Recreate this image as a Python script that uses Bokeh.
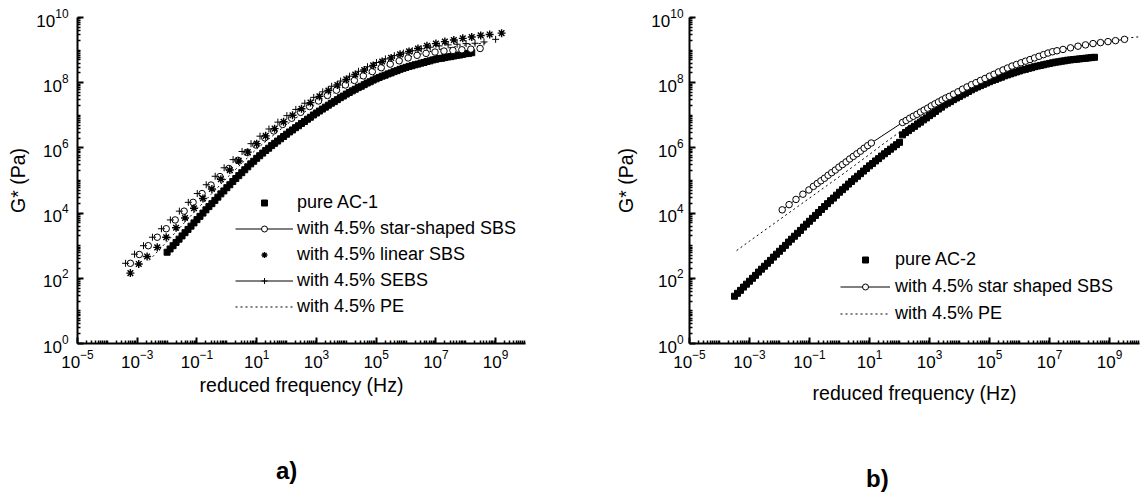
from bokeh.plotting import figure
from bokeh.models import Range1d, FixedTicker, Legend, LegendItem, ColumnDataSource, Div
from bokeh.layouts import row, column
from bokeh.embed import file_html
from bokeh.resources import INLINE

FONT = "Liberation Sans"

# ---------------- data (log10 of reduced frequency in Hz, log10 of G* in Pa) ----------------
# Panel a)
a_pure_logf = [-2.0, -1.9, -1.8, -1.7, -1.6, -1.5, -1.4, -1.3, -1.2, -1.1,
               -1.0, -0.9, -0.8, -0.7, -0.6, -0.5, -0.4, -0.3, -0.2, -0.1,
               0.0, 0.1, 0.2, 0.3, 0.4, 0.5, 0.6, 0.7, 0.8, 0.9,
               1.0, 1.1, 1.2, 1.3, 1.4, 1.5, 1.6, 1.7, 1.8, 1.9,
               2.0, 2.1, 2.2, 2.3, 2.4, 2.5, 2.6, 2.7, 2.8, 2.9,
               3.0, 3.1, 3.2, 3.3, 3.4, 3.5, 3.6, 3.7, 3.8, 3.9,
               4.0, 4.1, 4.2, 4.3, 4.4, 4.5, 4.6, 4.7, 4.8, 4.9,
               5.0, 5.1, 5.2, 5.3, 5.4, 5.5, 5.6, 5.7, 5.8, 5.9,
               6.0, 6.1, 6.2, 6.3, 6.4, 6.5, 6.6, 6.7, 6.8, 6.9,
               7.0, 7.1, 7.2, 7.3, 7.4, 7.5, 7.6, 7.7, 7.8, 7.9,
               8.0, 8.1, 8.2]
a_pure_logG = [2.80, 2.90, 3.00, 3.10, 3.20, 3.30, 3.40, 3.50, 3.60, 3.70,
               3.80, 3.90, 4.00, 4.10, 4.20, 4.29, 4.39, 4.49, 4.59, 4.68,
               4.78, 4.87, 4.97, 5.06, 5.15, 5.24, 5.33, 5.42, 5.51, 5.59,
               5.68, 5.76, 5.84, 5.92, 5.99, 6.07, 6.14, 6.21, 6.28, 6.35,
               6.42, 6.49, 6.55, 6.62, 6.68, 6.75, 6.81, 6.88, 6.94, 7.01,
               7.07, 7.13, 7.19, 7.25, 7.31, 7.37, 7.42, 7.48, 7.54, 7.59,
               7.65, 7.70, 7.75, 7.80, 7.85, 7.89, 7.94, 7.99, 8.03, 8.08,
               8.12, 8.16, 8.20, 8.23, 8.27, 8.30, 8.34, 8.37, 8.41, 8.44,
               8.47, 8.50, 8.52, 8.55, 8.57, 8.60, 8.62, 8.65, 8.67, 8.70,
               8.72, 8.74, 8.75, 8.77, 8.79, 8.80, 8.82, 8.84, 8.85, 8.87,
               8.89, 8.90, 8.92]

a_star_logf = [-3.23, -2.93, -2.63, -2.33, -2.03, -1.73, -1.43, -1.13, -0.83, -0.53, -0.23,
               0.07, 0.37, 0.67, 0.97, 1.27, 1.57, 1.87, 2.17, 2.47, 2.77,
               3.07, 3.37, 3.67, 3.97, 4.27, 4.57, 4.87, 5.17, 5.47, 5.77,
               6.07, 6.37, 6.67, 6.97, 7.27, 7.57, 7.87, 8.17, 8.48]
a_star_logG = [2.46, 2.73, 3.00, 3.26, 3.52, 3.79, 4.06, 4.33, 4.60, 4.86, 5.12,
               5.37, 5.62, 5.86, 6.09, 6.31, 6.52, 6.72, 6.91, 7.09, 7.27,
               7.44, 7.61, 7.77, 7.93, 8.07, 8.21, 8.34, 8.46, 8.57, 8.67,
               8.76, 8.84, 8.90, 8.94, 8.97, 8.99, 9.01, 9.03, 9.05]

a_linear_logf = [-3.23, -2.95, -2.67, -2.33, -2.03, -1.7, -1.4, -1.1, -0.8, -0.5, -0.2,
                 0.1, 0.4, 0.7, 1.0, 1.3, 1.6, 1.9, 2.2, 2.5, 2.8, 3.1, 3.4, 3.7,
                 4.0, 4.3, 4.6, 4.9, 5.2, 5.5, 5.8, 6.1, 6.4, 6.7, 7.0, 7.3, 7.6, 7.9,
                 8.2, 8.5, 8.8, 9.2]
a_linear_logG = [2.16, 2.44, 2.67, 2.95, 3.26, 3.55, 3.85, 4.15, 4.45, 4.74, 5.04,
                 5.32, 5.60, 5.87, 6.13, 6.37, 6.59, 6.80, 7.00, 7.20, 7.39, 7.58, 7.76, 7.93,
                 8.10, 8.25, 8.39, 8.53, 8.65, 8.76, 8.87, 8.96, 9.05, 9.13, 9.20, 9.26, 9.31, 9.36,
                 9.40, 9.45, 9.48, 9.52]

a_sebs_logf = [-3.39, -3.09, -2.79, -2.49, -2.19, -1.89, -1.59, -1.29, -0.99, -0.69, -0.39,
               -0.09, 0.21, 0.51, 0.81, 1.11, 1.41, 1.71, 2.01, 2.31, 2.61,
               2.91, 3.21, 3.51, 3.81, 4.11, 4.41, 4.71, 5.01, 5.31, 5.61,
               5.91, 6.21, 6.51, 6.81, 7.11, 7.41, 7.71, 8.01, 8.31, 8.61, 9.0]
a_sebs_logG = [2.46, 2.74, 3.00, 3.26, 3.52, 3.79, 4.06, 4.33, 4.60, 4.87, 5.13,
               5.39, 5.64, 5.89, 6.13, 6.36, 6.58, 6.79, 6.99, 7.18, 7.37,
               7.55, 7.72, 7.89, 8.05, 8.20, 8.35, 8.49, 8.62, 8.73, 8.83,
               8.91, 8.98, 9.04, 9.09, 9.13, 9.16, 9.18, 9.20, 9.21, 9.25, 9.33]

a_pe_logf = [-2.6, -2.0, -1.0, 0.0, 1.0, 2.0, 3.0, 4.0, 5.0, 6.0, 7.0, 8.0, 8.7]
a_pe_logG = [2.55, 3.13, 4.12, 5.08, 5.97, 6.72, 7.35, 7.92, 8.40, 8.76, 9.00, 9.16, 9.22]

# Panel b)
b_pure_logf = [-3.5, -3.4, -3.3, -3.2, -3.1, -3.0, -2.9, -2.8, -2.7, -2.6,
               -2.5, -2.4, -2.3, -2.2, -2.1, -2.0, -1.9, -1.8, -1.7, -1.6,
               -1.5, -1.4, -1.3, -1.2, -1.1, -1.0, -0.9, -0.8, -0.7, -0.6,
               -0.5, -0.4, -0.3, -0.2, -0.1, 0.0, 0.1, 0.2, 0.3, 0.4,
               0.5, 0.6, 0.7, 0.8, 0.9, 1.0, 1.1, 1.2, 1.3, 1.4,
               1.5, 1.6, 1.7, 1.8, 1.9, 2.0, 2.1, 2.2, 2.3, 2.4,
               2.5, 2.6, 2.7, 2.8, 2.9, 3.0, 3.1, 3.2, 3.3, 3.4,
               3.5, 3.6, 3.7, 3.8, 3.9, 4.0, 4.1, 4.2, 4.3, 4.4,
               4.5, 4.6, 4.7, 4.8, 4.9, 5.0, 5.1, 5.2, 5.3, 5.4,
               5.5, 5.6, 5.7, 5.8, 5.9, 6.0, 6.1, 6.2, 6.3, 6.4,
               6.5, 6.6, 6.7, 6.8, 6.9, 7.0, 7.1, 7.2, 7.3, 7.4,
               7.5, 7.6, 7.7, 7.8, 7.9, 8.0, 8.1, 8.2, 8.3, 8.4, 8.5]
b_pure_logG = [1.45, 1.54, 1.63, 1.73, 1.82, 1.91, 2.00, 2.09, 2.19, 2.28,
               2.37, 2.46, 2.55, 2.65, 2.74, 2.83, 2.92, 3.01, 3.11, 3.20,
               3.29, 3.38, 3.47, 3.57, 3.66, 3.75, 3.84, 3.93, 4.02, 4.11,
               4.20, 4.29, 4.38, 4.46, 4.55, 4.64, 4.72, 4.80, 4.89, 4.97,
               5.05, 5.13, 5.21, 5.29, 5.37, 5.45, 5.52, 5.60, 5.67, 5.75,
               5.82, 5.89, 5.96, 6.03, 6.10, 6.17, 6.40, 6.47, 6.53, 6.60,
               6.66, 6.73, 6.79, 6.86, 6.92, 6.99, 7.05, 7.12, 7.19, 7.25,
               7.32, 7.37, 7.42, 7.48, 7.53, 7.58, 7.63, 7.68, 7.73, 7.78,
               7.83, 7.87, 7.91, 7.95, 7.99, 8.03, 8.07, 8.10, 8.14, 8.17,
               8.21, 8.24, 8.27, 8.30, 8.33, 8.36, 8.39, 8.41, 8.44, 8.46,
               8.49, 8.51, 8.53, 8.55, 8.57, 8.59, 8.61, 8.63, 8.64, 8.66,
               8.67, 8.69, 8.70, 8.71, 8.72, 8.73, 8.74, 8.75, 8.76, 8.77, 8.78]

b_star_logf = [-1.91, -1.68, -1.45, -1.22, -1.02, -0.87, -0.74, -0.62, -0.50, -0.38, -0.26,
               -0.14, -0.02, 0.10, 0.22, 0.34, 0.46, 0.58, 0.70, 0.82, 0.94, 1.06,
               2.10, 2.22, 2.34, 2.46, 2.58, 2.70, 2.82, 2.94, 3.06, 3.18, 3.30, 3.42, 3.54, 3.66,
               3.80, 3.95, 4.10, 4.25, 4.40, 4.55, 4.70, 4.85, 5.00, 5.15, 5.30, 5.45, 5.60, 5.75, 5.90,
               6.05, 6.20, 6.35, 6.50, 6.65, 6.80, 6.95, 7.10, 7.25,
               7.45, 7.70, 7.95, 8.20, 8.45, 8.70, 8.95, 9.20, 9.50]
b_star_logG = [4.10, 4.26, 4.42, 4.58, 4.71, 4.82, 4.91, 4.99, 5.07, 5.16, 5.24,
               5.32, 5.41, 5.49, 5.57, 5.66, 5.74, 5.82, 5.90, 5.99, 6.07, 6.15,
               6.78, 6.84, 6.91, 6.97, 7.03, 7.10, 7.16, 7.22, 7.29, 7.35, 7.41, 7.47, 7.53, 7.58,
               7.65, 7.72, 7.80, 7.87, 7.94, 8.00, 8.07, 8.13, 8.20, 8.26, 8.33, 8.39, 8.45, 8.51, 8.56,
               8.61, 8.66, 8.71, 8.76, 8.81, 8.86, 8.91, 8.95, 8.98,
               9.02, 9.07, 9.12, 9.16, 9.20, 9.23, 9.26, 9.29, 9.33]

b_pe_logf = [-3.43, -3.0, -2.5, -2.0, -1.5, -1.0, -0.5, 0.0, 0.5, 1.0, 1.5, 2.0, 2.5, 3.0,
             3.5, 4.0, 4.5, 5.0, 5.5, 6.0, 6.5, 7.0, 7.5, 8.0, 8.5, 9.0, 9.5, 10.0]
b_pe_logG = [2.85, 3.14, 3.47, 3.80, 4.13, 4.46, 4.79, 5.12, 5.46, 5.80, 6.15, 6.48, 6.80, 7.12,
             7.42, 7.68, 7.93, 8.16, 8.37, 8.56, 8.74, 8.90, 9.03, 9.14, 9.23, 9.30, 9.36, 9.41]

x_label_exponents = [-5, -3, -1, 1, 3, 5, 7, 9]
y_label_exponents = [0, 2, 4, 6, 8, 10]

legend_a = ["pure AC-1", "with 4.5% star-shaped SBS", "with 4.5% linear SBS",
            "with 4.5% SEBS", "with 4.5% PE"]
legend_b = ["pure AC-2", "with 4.5% star shaped SBS", "with 4.5% PE"]
panel_tags = ["a)", "b)"]


def src(logf, logG):
    assert len(logf) == len(logG)
    return ColumnDataSource(dict(x=[10.0 ** v for v in logf], y=[10.0 ** v for v in logG]))


def make_fig(width, b_left, b_right, y_label_standoff, y_axis_label_standoff, x_axis_label_standoff):
    p = figure(width=width, height=415, x_axis_type="log", y_axis_type="log",
               x_range=Range1d(1e-5, 1e10), y_range=Range1d(1.0, 1e10),
               output_backend="svg", toolbar_location=None,
               min_border_left=b_left, min_border_right=b_right,
               min_border_top=17, min_border_bottom=72)
    p.outline_line_color = None
    p.xgrid.visible = False
    p.ygrid.visible = False
    p.background_fill_color = "white"
    p.border_fill_color = "white"

    xmaj = [10.0 ** e for e in x_label_exponents]
    xmin = [m * 10.0 ** k for k in range(-5, 10) for m in range(1, 10)
            if not (m == 1 and k in x_label_exponents)]
    ymaj = [10.0 ** e for e in y_label_exponents]
    ymin = [m * 10.0 ** k for k in range(0, 10) for m in range(1, 10)
            if not (m == 1 and k in y_label_exponents)]
    p.xaxis.ticker = FixedTicker(ticks=xmaj, minor_ticks=xmin)
    p.yaxis.ticker = FixedTicker(ticks=ymaj, minor_ticks=ymin)

    for ax in (p.xaxis, p.yaxis):
        ax.axis_line_width = 2
        ax.axis_line_color = "black"
        ax.major_tick_in = 6
        ax.major_tick_out = 0
        ax.minor_tick_in = 3
        ax.minor_tick_out = 0
        ax.major_tick_line_width = 2
        ax.minor_tick_line_width = 1.5
        ax.major_label_text_font = FONT
        ax.major_label_text_font_size = "17px"
        ax.major_label_text_color = "black"
        ax.axis_label_text_font = FONT
        ax.axis_label_text_font_size = "19.5px"
        ax.axis_label_text_font_style = "normal"
        ax.axis_label_text_color = "black"
    p.xaxis.axis_label = "reduced frequency (Hz)"
    p.yaxis.axis_label = "G* (Pa)"
    p.yaxis.major_label_standoff = y_label_standoff
    p.yaxis.axis_label_standoff = y_axis_label_standoff
    p.xaxis.major_label_standoff = 6
    p.xaxis.axis_label_standoff = x_axis_label_standoff
    return p


def make_legend(items, loc, glyph_width, standoff, spacing):
    return Legend(items=items, location=loc, glyph_width=glyph_width, glyph_height=15,
                  label_standoff=standoff, label_height=21, spacing=spacing,
                  padding=0, margin=0, border_line_alpha=0, background_fill_alpha=0,
                  label_text_font=FONT, label_text_font_size="18px", label_text_color="black")


def make_tag(text, width, left, top):
    html = ('<div style="margin-left:%dpx; padding-top:%dpx; font-family:\'Liberation Sans\';'
            ' font-size:24px; font-weight:bold; line-height:27px; color:black;">%s</div>'
            % (left, top, text))
    return Div(text=html, width=width, height=80, margin=0)


# ---------------- panel a ----------------
pa = make_fig(568, 77, 43, 9, 4, 3)
r_pe_a = pa.line("x", "y", source=src(a_pe_logf, a_pe_logG), line_color="black",
                 line_width=1, line_dash="2 3")
r_pure_a = pa.scatter("x", "y", source=src(a_pure_logf, a_pure_logG), marker="square",
                      size=6, fill_color="black", line_color="black")
r_star_a = pa.scatter("x", "y", source=src(a_star_logf, a_star_logG), marker="circle",
                      size=6.5, fill_color="white", line_color="black", line_width=1)
r_lin_a = pa.scatter("x", "y", source=src(a_linear_logf, a_linear_logG), marker="asterisk",
                     size=8, line_color="black", line_width=1.4)
r_sebs_a = pa.scatter("x", "y", source=src(a_sebs_logf, a_sebs_logG), marker="cross",
                      size=7, line_color="black", line_width=1)
# one-point lines: nothing is drawn in the plot, but the legend shows the connecting line
r_star_line = pa.line("x", "y", source=src(a_star_logf[:1], a_star_logG[:1]),
                      line_color="black", line_width=1)
r_sebs_line = pa.line("x", "y", source=src(a_sebs_logf[:1], a_sebs_logG[:1]),
                      line_color="black", line_width=1)

items_a = [
    LegendItem(label=legend_a[0], renderers=[r_pure_a]),
    LegendItem(label=legend_a[1], renderers=[r_star_line, r_star_a]),
    LegendItem(label=legend_a[2], renderers=[r_lin_a]),
    LegendItem(label=legend_a[3], renderers=[r_sebs_line, r_sebs_a]),
    LegendItem(label=legend_a[4], renderers=[r_pe_a]),
]
pa.add_layout(make_legend(items_a, (158, 26), 58, 4, 5))

# ---------------- panel b ----------------
pb = make_fig(572, 121, 1, 6, 11, 11)
r_pe_b = pb.line("x", "y", source=src(b_pe_logf, b_pe_logG), line_color="black",
                 line_width=1, line_dash="2 3")
r_pure_b = pb.scatter("x", "y", source=src(b_pure_logf, b_pure_logG), marker="square",
                      size=6, fill_color="black", line_color="black")
sb = src(b_star_logf, b_star_logG)
r_star_line_b = pb.line("x", "y", source=sb, line_color="black", line_width=1)
r_star_b = pb.scatter("x", "y", source=sb, marker="circle", size=6.5,
                      fill_color="white", line_color="black", line_width=1)

items_b = [
    LegendItem(label=legend_b[0], renderers=[r_pure_b]),
    LegendItem(label=legend_b[1], renderers=[r_star_line_b, r_star_b]),
    LegendItem(label=legend_b[2], renderers=[r_pe_b]),
]
pb.add_layout(make_legend(items_b, (151, 19), 50, 5, 6))

tag_a = make_tag(panel_tags[0], 568, 276, 42)
tag_b = make_tag(panel_tags[1], 572, 298, 50)

layout = row(column(pa, tag_a), column(pb, tag_b))
open("out.html", "w").write(file_html(layout, INLINE))
